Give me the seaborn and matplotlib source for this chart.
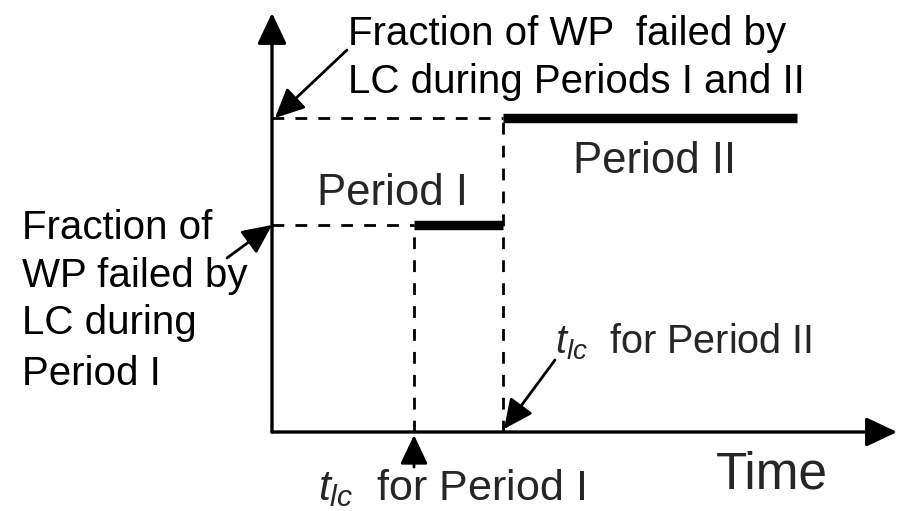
import matplotlib
matplotlib.use("Agg")
import matplotlib.pyplot as plt
import seaborn as sns
import pandas as pd
from matplotlib.patches import ArrowStyle

# ---- data (schematic, arbitrary units) ----
t_lc_period1 = 1.42      # time of LC failure during Period I
t_lc_period2 = 2.31      # time of LC failure during Period II
t_end = 5.25             # end of plotted time
frac_period1 = 2.07      # fraction of WP failed by LC during Period I
frac_period12 = 3.14     # fraction of WP failed by LC during Periods I and II
x_axis_end = 6.25
y_axis_end = 4.19

period_labels = ["Period I", "Period II"]
seg_start = [t_lc_period1, t_lc_period2]
seg_end = [t_lc_period2, t_end]
seg_level = [frac_period1, frac_period12]

sns.set_theme(style="white")
plt.rcParams["font.family"] = ["Liberation Sans", "DejaVu Sans"]
plt.rcParams["mathtext.fontset"] = "custom"
plt.rcParams["mathtext.it"] = "Liberation Sans:italic"
plt.rcParams["mathtext.rm"] = "Liberation Sans"
plt.rcParams["lines.scale_dashes"] = False

fig = plt.figure(figsize=(8.98, 5.11), dpi=100)
ax = fig.add_axes([0, 0, 1, 1])
ax.set_xlim(-2.72, 6.26)
ax.set_ylim(-0.79, 4.32)
ax.axis("off")

# thick step segments
rows = []
for lab, a, b, lev in zip(period_labels, seg_start, seg_end, seg_level):
    rows.append({"time": a, "frac": lev, "period": lab})
    rows.append({"time": b, "frac": lev, "period": lab})
df = pd.DataFrame(rows)
sns.lineplot(data=df, x="time", y="frac", units="period", estimator=None,
             color="black", lw=6.8, solid_capstyle="butt", ax=ax, legend=False)

# dashed guide lines
dash = dict(color="black", lw=2.0, dashes=(8.5, 8.0))
ax.plot([0, t_lc_period2], [frac_period12, frac_period12], **dash)
ax.plot([0, t_lc_period1], [frac_period1, frac_period1], **dash)
ax.plot([t_lc_period1, t_lc_period1], [0, frac_period1], **dash)
ax.plot([t_lc_period2, t_lc_period2], [0, frac_period12], **dash)

# axes arrows
big = ArrowStyle("-|>", head_length=19, head_width=9)
for xy in [(x_axis_end, 0), (0, y_axis_end)]:
    ax.annotate("", xy=xy, xytext=(0, 0),
                arrowprops=dict(arrowstyle=big, mutation_scale=1, lw=2.4,
                                color="black", shrinkA=0, shrinkB=0))

# pointer arrows
small = ArrowStyle("-|>", head_length=18, head_width=8.5)
def pointer(tip, tail):
    ax.annotate("", xy=tip, xytext=tail,
                arrowprops=dict(arrowstyle=small, mutation_scale=1, lw=2.0,
                                color="black", shrinkA=0, shrinkB=0))

pointer((0.03, frac_period12), (0.75, 3.82))
pointer((0.0, frac_period1), (-0.45, 1.74))
pointer((t_lc_period2 + 0.01, 0.03), (2.83, 0.72))
pointer((t_lc_period1, -0.03), (t_lc_period1, -0.35))

# texts
def lines(x, baselines, texts, size):
    for b, t in zip(baselines, texts):
        ax.text(x, b, t, fontsize=size, va="baseline", ha="left", color="black")

lines(0.76, [3.87, 3.39], ["Fraction of WP  failed by", "LC during Periods I and II"], 29)
lines(-2.50, [1.93, 1.45, 0.98, 0.47], ["Fraction of", "WP failed by", "LC during", "Period I"], 29)
ax.text(0.45, 2.27, "Period I", fontsize=31.5, va="baseline")
ax.text(3.01, 2.59, "Period II", fontsize=31.5, va="baseline")
ax.text(2.83, 0.79, r"$t_{lc}$  for Period II", fontsize=28.5, va="baseline")
ax.text(0.46, -0.68, r"$t_{lc}$  for Period I", fontsize=31, va="baseline")
ax.text(4.44, -0.56, "Time", fontsize=37, va="baseline")

fig.savefig("out.png", dpi=100, facecolor="white")
